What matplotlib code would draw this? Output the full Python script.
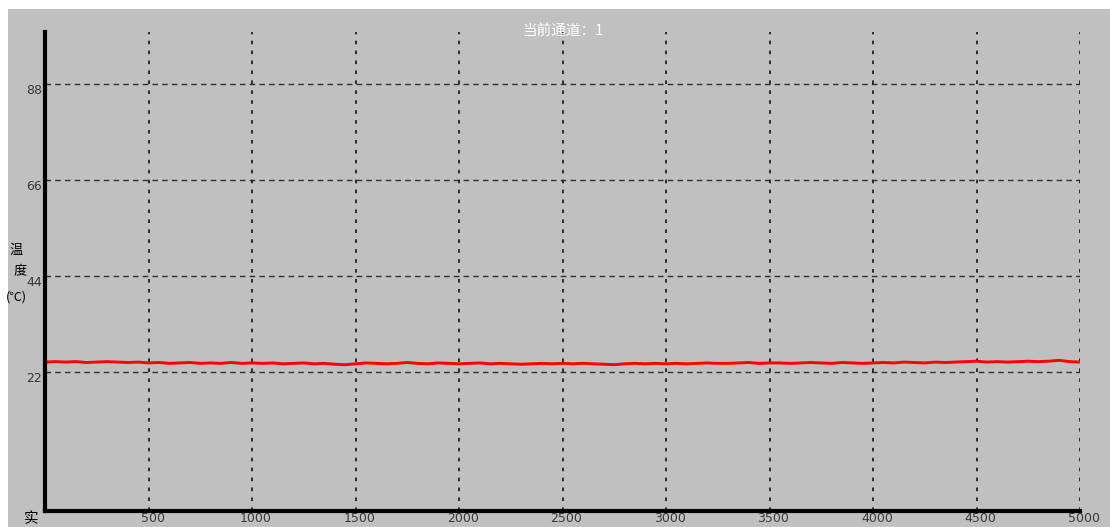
import numpy as np
import matplotlib
matplotlib.use("Agg")
import matplotlib.pyplot as plt
import matplotlib.transforms as mtransforms
from matplotlib.patches import Rectangle

plt.rcParams['font.family'] = ['Noto Sans CJK SC', 'DejaVu Sans']

# channel 1 temperature samples, one reading every 50 samples
sample_step = 50
temp = [24.2, 24.3, 24.2, 24.3, 24.1, 24.2, 24.3, 24.2, 24.1, 24.2, 24.0,
        24.1, 23.9, 24.0, 24.1, 23.9, 24.0, 23.9, 24.1, 23.9, 24.0,
        23.9, 24.0, 23.8, 23.9, 24.0, 23.8, 23.9, 23.7, 23.6, 23.8,
        24.0, 23.9, 23.8, 23.9, 24.1, 23.9, 23.8, 24.0, 23.9, 23.8,
        23.9, 24.0, 23.8, 23.9, 23.8, 23.7, 23.8, 23.9, 23.8, 23.9,
        23.8, 23.9, 23.8, 23.7, 23.6, 23.8, 23.9, 23.8, 23.9, 23.8,
        23.9, 23.8, 23.9, 24.0, 23.9, 23.9, 24.0, 24.1, 23.9, 24.0,
        24.0, 23.9, 24.0, 24.1, 24.0, 23.9, 24.1, 24.0, 23.9, 24.0,
        24.1, 24.0, 24.2, 24.1, 24.0, 24.2, 24.1, 24.2, 24.3, 24.4,
        24.2, 24.3, 24.2, 24.3, 24.4, 24.3, 24.4, 24.6, 24.3, 24.2]
samples = np.arange(len(temp)) * sample_step

x_ticks = [500, 1000, 1500, 2000, 2500, 3000, 3500, 4000, 4500, 5000]
y_ticks = [22, 44, 66, 88]
channel = 1

W, H = 1110, 527
fig = plt.figure(figsize=(W / 100, H / 100), dpi=100, facecolor='white')
# grey panel with a thin white margin at top and left
fig.patches.append(Rectangle((8 / W, 0), 1, (H - 9) / H, transform=fig.transFigure,
                             facecolor='#c0c0c0', edgecolor='none', zorder=-1))

ax = fig.add_axes([45 / W, (H - 511) / H, (1080 - 45) / W, (511 - 32) / H])
ax.set_facecolor('none')
ax.set_xlim(0, 5000)
ax.set_ylim(-10, 100)

ax.plot(samples, temp, color='#ff0000', lw=2.1, zorder=3)

for v in y_ticks:
    ax.axhline(v, color='#303030', lw=1.0, ls=(0, (4, 3)), zorder=1)
for v in x_ticks:
    ax.axvline(v, color='#202020', lw=1.3, ls=(0, (2, 3.5)), zorder=1)

for s in ['top', 'right']:
    ax.spines[s].set_visible(False)
for s in ['left', 'bottom']:
    ax.spines[s].set_linewidth(3)
    ax.spines[s].set_color('black')
    ax.spines[s].set_zorder(4)

ax.set_xticks(x_ticks)
ax.set_yticks(y_ticks)
ax.tick_params(axis='both', length=0, labelsize=9, labelcolor='#383838', pad=2)
ax.tick_params(axis='x', pad=0.5)
for lab in ax.get_xticklabels() + ax.get_yticklabels():
    lab.set_family('DejaVu Sans')
for lab in ax.get_yticklabels():
    lab.set_transform(lab.get_transform() + mtransforms.ScaledTranslation(0, -5 / 100, fig.dpi_scale_trans))
for lab in ax.get_xticklabels():
    lab.set_transform(lab.get_transform() + mtransforms.ScaledTranslation(4 / 100, 0, fig.dpi_scale_trans))

ax.text(0.5, 1.0, '当前通道：%d' % channel, transform=ax.transAxes, ha='center', va='center',
        color='white', fontsize=10.5)

# vertical axis label
fig.text(9 / W, 1 - 250 / H, '温', fontsize=9.5, va='center', ha='left')
fig.text(13 / W, 1 - 272 / H, '度', fontsize=9.5, va='center', ha='left')
fig.text(6 / W, 1 - 297 / H, '(℃)', fontsize=9, va='center', ha='left')
fig.text(24 / W, 1 - 512 / H, '实', fontsize=10.5, va='top', ha='left')

fig.savefig('out.png', dpi=100, facecolor=fig.get_facecolor())
